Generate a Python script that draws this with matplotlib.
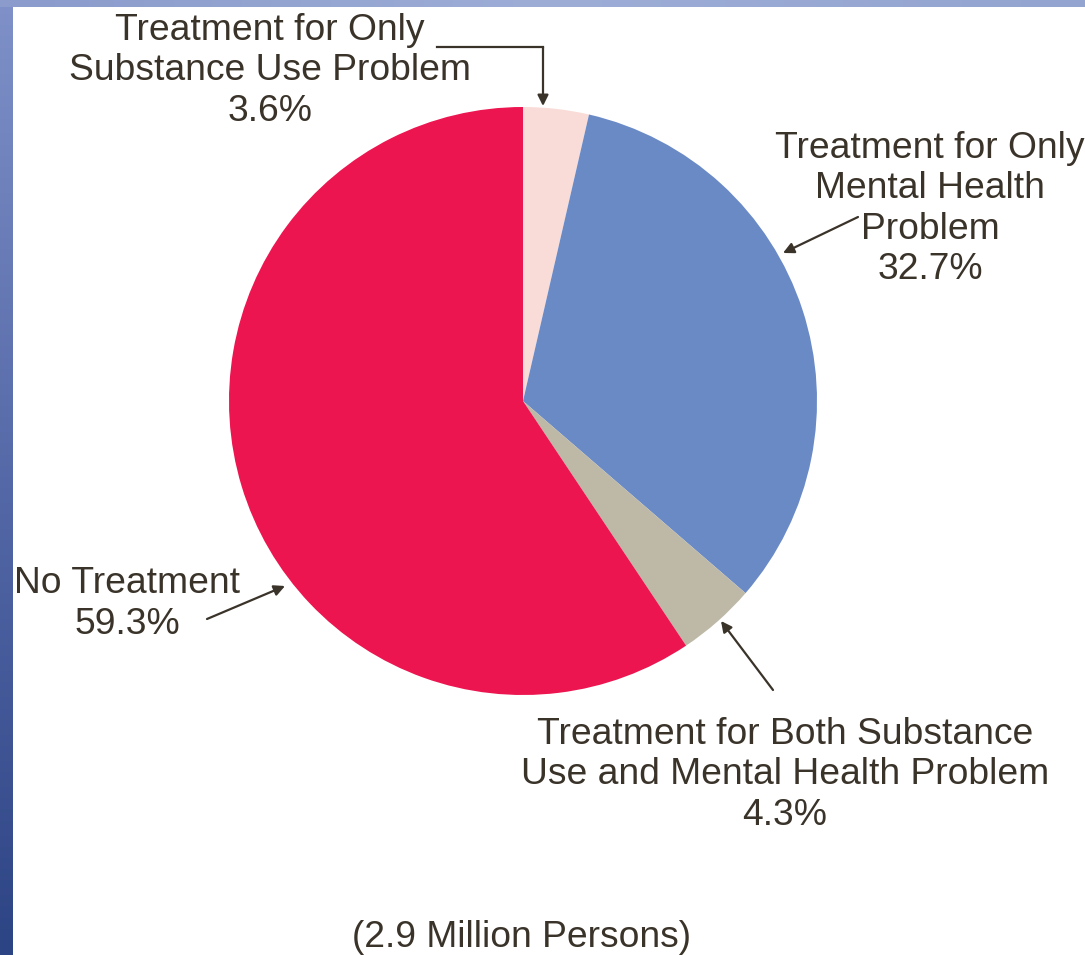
import numpy as np
import matplotlib.pyplot as plt
from matplotlib.colors import LinearSegmentedColormap

plt.rcParams['font.family'] = ['Liberation Sans', 'DejaVu Sans']

# data
labels = ['Treatment for Only\nSubstance Use Problem\n3.6%',
          'Treatment for Only\nMental Health\nProblem\n32.7%',
          'Treatment for Both Substance\nUse and Mental Health Problem\n4.3%',
          'No Treatment\n59.3%']
values = [3.6, 32.7, 4.3, 59.3]
colors = ['#F9DCD8', '#6A8AC6', '#BEB9A7', '#EC1550']
note = '(2.9 Million Persons)'

W, H = 1085, 955
txt = '#3A332A'

fig = plt.figure(figsize=(W / 100, H / 100), dpi=100)
fig.patch.set_facecolor('white')
ax = fig.add_axes([0, 0, 1, 1])

def Y(y):  # pixel row -> data y
    return H - y

# blue frame (left strip + top strip)
grad = np.linspace(0, 1, 256).reshape(-1, 1)
cm = LinearSegmentedColormap.from_list('frame', ['#2D4484', '#5569A8', '#7F91C8'])
ax.imshow(grad, cmap=cm, extent=[0, 13, 0, H], aspect='auto', origin='lower', zorder=0)
top = np.linspace(0, 1, 256).reshape(1, -1)
cm2 = LinearSegmentedColormap.from_list('frame2', ['#8A9BCC', '#9DADD6', '#93A4D0'])
ax.imshow(top, cmap=cm2, extent=[0, W, Y(7), H], aspect='auto', zorder=0)

# pie
ax.pie(values, colors=colors, startangle=90, counterclock=False,
       center=(523, Y(401)), radius=294, frame=True,
       wedgeprops=dict(linewidth=0))
ax.set_xlim(0, W)
ax.set_ylim(0, H)
ax.axis('off')

fs = 26.8
ls = 1.2
ax.text(270, Y(71), labels[0], ha='center', va='center', fontsize=fs,
        color=txt, linespacing=ls)
ax.text(930, Y(209), labels[1], ha='center', va='center', fontsize=fs,
        color=txt, linespacing=ls)
ax.text(785, Y(775), labels[2], ha='center', va='center', fontsize=fs,
        color=txt, linespacing=ls)
ax.text(127, Y(604), labels[3], ha='center', va='center', fontsize=fs,
        color=txt, linespacing=ls)
# note sits at the very bottom edge, as in the original
ax.text(521, Y(947), note, ha='center', va='baseline', fontsize=fs, color=txt)

ap = dict(arrowstyle='-|>', lw=1.6, color=txt, mutation_scale=16,
          shrinkA=0, shrinkB=0)
# elbow arrow to the small pink slice
ax.plot([437, 543], [Y(47), Y(47)], color=txt, lw=1.6)
ax.annotate('', xy=(543, Y(106)), xytext=(543, Y(47)), arrowprops=ap)
ax.annotate('', xy=(783, Y(253)), xytext=(858, Y(217)), arrowprops=ap)
ax.annotate('', xy=(285, Y(586)), xytext=(207, Y(619)), arrowprops=ap)
ax.annotate('', xy=(721, Y(621)), xytext=(773, Y(690)), arrowprops=ap)

fig.savefig('out.png', dpi=100)
